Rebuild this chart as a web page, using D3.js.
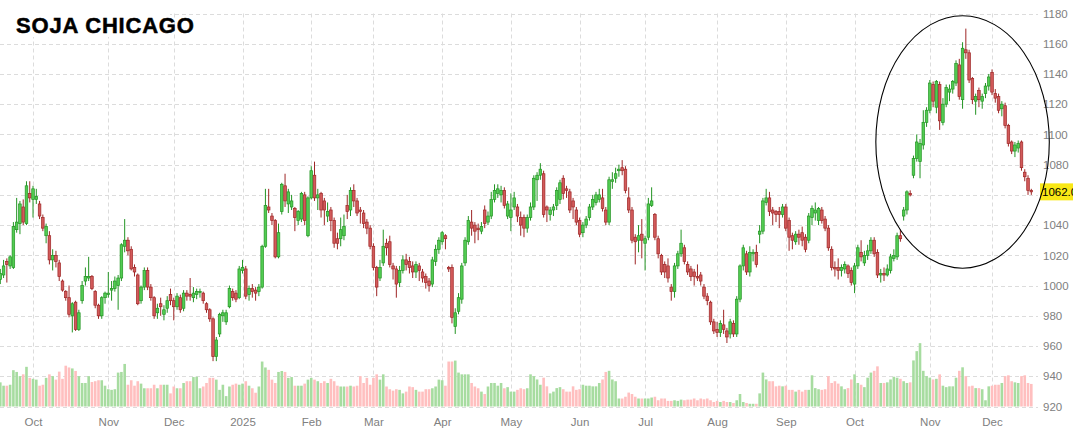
<!DOCTYPE html>
<html>
<head>
<meta charset="utf-8">
<script src="https://cdn.jsdelivr.net/npm/d3@7"></script>
<style>
  body { margin: 0; background: #fff; }
  svg { display: block; font-family: Arial, 'Liberation Sans', sans-serif; }
</style>
</head>
<body>
<svg width="1073" height="431"></svg>
<script>
'use strict'

const title = 'SOJA CHICAGO'
const firstDay = '2024-09-17'
const lastDay = '2025-12-17'
const holidays = ['2024-11-28', '2024-12-25', '2025-01-01', '2025-01-20', '2025-02-17', '2025-04-18',
  '2025-05-26', '2025-06-19', '2025-07-04', '2025-09-01', '2025-11-27']
const yTicks = [920, 940, 960, 980, 1000, 1020, 1040, 1060, 1080, 1100, 1120, 1140, 1160, 1180]

// one value per trading day, month by month
const opens = [
  1004, 1007, 1016, 1013, 1012, 1037, 1041, 1052, 1041, 1061,
  1057, 1057, 1054, 1045, 1033, 1033, 1017, 1020, 1015, 1003, 996, 992, 980, 989, 971, 990, 1003, 1005, 1006, 996, 987, 980, 992,
  994, 997, 998, 1000, 1005, 1026, 1030, 1024, 1012, 1007, 990, 999, 1010, 999, 992, 982, 988, 981, 985, 994,
  990, 986, 992, 985, 995, 994, 992, 994, 996, 995, 988, 984, 978, 953, 968, 980, 976, 986, 996, 995, 992,
  1010, 1011, 994, 998, 997, 996, 999, 1026, 1052, 1046, 1043, 1019, 1049, 1066, 1054, 1052, 1051, 1043, 1044, 1060, 1033,
  1058, 1073, 1058, 1061, 1056, 1046, 1050, 1043, 1031, 1031, 1033, 1053, 1050, 1063, 1056, 1050, 1048, 1042, 1038,
  1026, 1012, 1005, 1015, 1028, 1029, 1013, 1011, 1002, 1010, 1017, 1016, 1013, 1009, 1013, 1009, 1006, 1003, 1001, 1016, 1024,
  1029, 1033, 1012, 1012, 973, 983, 991, 1015, 1029, 1042, 1040, 1038, 1036, 1050, 1042, 1046, 1057, 1061, 1060, 1063, 1046,
  1045, 1052, 1052, 1045, 1045, 1038, 1045, 1052, 1070, 1073, 1074, 1052, 1047, 1050, 1053, 1057, 1071, 1064, 1062, 1056, 1050,
  1043, 1035, 1040, 1045, 1052, 1055, 1057, 1058, 1050, 1042, 1069, 1071, 1076, 1078, 1077, 1058, 1050, 1032, 1030, 1034,
  1028, 1032, 1053, 1047, 1031, 1020, 1014, 1013, 999, 996, 1013, 1021, 1025, 1014, 1011, 1009, 1006, 1007, 999, 993, 989, 976,
  971, 969, 974, 970, 968, 975, 968, 991, 1013, 1021, 1009, 1021, 1022, 1034, 1036, 1055, 1058, 1050, 1049, 1049, 1047,
  1052, 1043, 1033, 1029, 1034, 1035, 1032, 1030, 1045, 1048, 1043, 1050, 1044, 1038, 1024, 1012, 1012, 1010, 1011, 1013, 1010,
  1001, 1013, 1022, 1015, 1020, 1023, 1030, 1022, 1007, 1008, 1007, 1010, 1018, 1019, 1033, 1046, 1050, 1061, 1073, 1084, 1082, 1093, 1108,
  1116, 1133, 1118, 1133, 1108, 1120, 1128, 1130, 1134, 1146, 1123, 1156, 1154, 1137, 1122, 1129, 1122, 1127, 1132,
  1141, 1127, 1125, 1117, 1119, 1106, 1095, 1089, 1091, 1095, 1075, 1071, 1063
]
const highs = [
  1011, 1017, 1018, 1020, 1042, 1058, 1056, 1057, 1069, 1069,
  1066, 1064, 1056, 1047, 1041, 1036, 1024, 1023, 1017, 1004, 997, 1000, 989, 990, 984, 1003, 1012, 1019, 1007, 997, 988, 993, 996,
  1009, 1003, 1006, 1007, 1028, 1044, 1032, 1026, 1014, 1008, 1000, 1012, 1012, 1001, 993, 988, 992, 987, 993, 998,
  992, 995, 994, 997, 997, 1005, 999, 998, 998, 996, 989, 985, 979, 966, 982, 984, 984, 1000, 998, 997, 1013,
  1017, 1013, 1000, 1001, 999, 1001, 1027, 1064, 1064, 1048, 1044, 1041, 1068, 1074, 1064, 1060, 1052, 1050, 1062, 1062, 1059,
  1079, 1082, 1064, 1062, 1058, 1055, 1052, 1045, 1035, 1045, 1047, 1060, 1065, 1067, 1058, 1052, 1050, 1044, 1040,
  1028, 1013, 1017, 1037, 1031, 1033, 1015, 1013, 1013, 1020, 1021, 1019, 1016, 1016, 1015, 1011, 1008, 1005, 1019, 1027, 1032,
  1036, 1034, 1013, 1014, 985, 995, 1015, 1032, 1046, 1050, 1042, 1041, 1042, 1053, 1049, 1062, 1067, 1067, 1066, 1065, 1056,
  1061, 1062, 1054, 1049, 1047, 1047, 1055, 1073, 1075, 1081, 1076, 1053, 1052, 1054, 1065, 1070, 1073, 1066, 1064, 1058, 1052,
  1045, 1042, 1046, 1054, 1060, 1062, 1064, 1064, 1052, 1072, 1075, 1078, 1080, 1083, 1079, 1065, 1052, 1034, 1040, 1044,
  1033, 1058, 1065, 1048, 1033, 1021, 1016, 1018, 1001, 1015, 1023, 1037, 1027, 1016, 1013, 1011, 1014, 1009, 1001, 995, 990, 978,
  976, 977, 984, 972, 978, 977, 993, 1014, 1027, 1023, 1026, 1024, 1027, 1040, 1058, 1064, 1062, 1052, 1050, 1052, 1054,
  1054, 1045, 1035, 1036, 1037, 1039, 1034, 1048, 1053, 1055, 1052, 1052, 1046, 1040, 1026, 1016, 1018, 1014, 1016, 1014, 1012,
  1015, 1027, 1030, 1023, 1027, 1032, 1032, 1024, 1011, 1012, 1014, 1021, 1024, 1035, 1037, 1052, 1063, 1063, 1086, 1100, 1097, 1116, 1118,
  1136, 1135, 1136, 1135, 1124, 1133, 1133, 1136, 1149, 1150, 1161, 1170, 1156, 1138, 1127, 1131, 1127, 1134, 1140,
  1143, 1130, 1127, 1122, 1121, 1107, 1096, 1095, 1096, 1096, 1077, 1073, 1064
]
const lows = [
  1001, 1005, 1002, 1011, 1011, 1035, 1034, 1040, 1040, 1055,
  1045, 1054, 1044, 1036, 1028, 1014, 1010, 1012, 1003, 996, 990, 979, 969, 970, 970, 988, 1000, 1003, 997, 985, 978, 978, 988,
  992, 990, 996, 984, 1003, 1022, 1020, 1010, 1006, 987, 988, 997, 997, 990, 978, 978, 980, 977, 982, 987,
  977, 984, 982, 983, 990, 990, 989, 991, 992, 988, 982, 976, 950, 950, 966, 976, 974, 985, 990, 989, 991,
  1008, 991, 990, 992, 990, 993, 998, 1025, 1048, 1040, 1018, 1018, 1047, 1052, 1048, 1050, 1036, 1040, 1042, 1040, 1032,
  1057, 1056, 1050, 1045, 1040, 1042, 1036, 1025, 1024, 1026, 1030, 1044, 1046, 1052, 1046, 1041, 1038, 1034, 1024,
  1010, 993, 1003, 1013, 1020, 1012, 1004, 992, 999, 1008, 1010, 1008, 1005, 1005, 1003, 1002, 998, 996, 999, 1013, 1021,
  1027, 1024, 1009, 975, 968, 981, 988, 1013, 1027, 1033, 1028, 1030, 1034, 1038, 1040, 1044, 1055, 1058, 1055, 1051, 1044,
  1036, 1050, 1042, 1033, 1032, 1035, 1043, 1050, 1056, 1070, 1045, 1042, 1043, 1046, 1050, 1054, 1057, 1058, 1048, 1044, 1040,
  1032, 1032, 1038, 1043, 1050, 1053, 1055, 1049, 1040, 1040, 1064, 1068, 1072, 1073, 1061, 1048, 1028, 1014, 1022, 1018,
  1010, 1030, 1052, 1030, 1018, 1007, 1005, 1002, 990, 992, 1011, 1019, 1014, 1007, 1003, 1000, 1003, 1000, 991, 987, 974, 968,
  966, 966, 968, 962, 965, 966, 966, 989, 1010, 1007, 1006, 1016, 1012, 1028, 1034, 1053, 1046, 1040, 1042, 1038, 1045,
  1036, 1023, 1024, 1027, 1027, 1026, 1022, 1028, 1040, 1043, 1040, 1041, 1036, 1023, 1010, 1006, 1004, 1006, 1008, 1005, 1000,
  995, 1011, 1016, 1013, 1017, 1021, 1019, 1005, 1002, 1003, 1006, 1008, 1016, 1017, 1029, 1043, 1047, 1059, 1071, 1082, 1071, 1090, 1105,
  1114, 1118, 1114, 1103, 1106, 1118, 1122, 1127, 1132, 1123, 1117, 1150, 1134, 1120, 1113, 1118, 1117, 1124, 1129,
  1126, 1121, 1114, 1112, 1104, 1092, 1087, 1085, 1088, 1076, 1069, 1060, 1060
]
const closes = [
  1008, 1013, 1014, 1019, 1039, 1042, 1054, 1042, 1066, 1058,
  1064, 1059, 1046, 1038, 1039, 1017, 1020, 1016, 1006, 997, 992, 981, 988, 971, 982, 1000, 1006, 1006, 998, 987, 980, 992, 995,
  995, 998, 1003, 1005, 1027, 1030, 1023, 1011, 1009, 988, 999, 1010, 999, 992, 980, 985, 986, 984, 990, 990,
  986, 993, 984, 995, 993, 993, 995, 996, 996, 990, 984, 978, 953, 964, 981, 982, 982, 998, 992, 991, 1011,
  1012, 993, 998, 996, 995, 999, 1026, 1053, 1050, 1043, 1019, 1035, 1067, 1056, 1062, 1056, 1045, 1049, 1061, 1043, 1058,
  1076, 1058, 1060, 1050, 1050, 1049, 1043, 1028, 1028, 1037, 1039, 1049, 1063, 1056, 1048, 1049, 1041, 1038, 1026,
  1012, 999, 1012, 1026, 1025, 1014, 1011, 1001, 1010, 1017, 1014, 1012, 1009, 1014, 1010, 1005, 1002, 1000, 1017, 1024, 1030,
  1035, 1031, 1011, 979, 982, 992, 1013, 1030, 1043, 1038, 1036, 1037, 1039, 1041, 1046, 1057, 1063, 1064, 1063, 1053, 1054,
  1050, 1058, 1046, 1040, 1038, 1045, 1052, 1071, 1073, 1077, 1047, 1050, 1050, 1052, 1063, 1068, 1061, 1063, 1050, 1052, 1042,
  1034, 1040, 1044, 1052, 1057, 1060, 1060, 1051, 1042, 1070, 1070, 1074, 1077, 1076, 1063, 1050, 1030, 1029, 1033, 1030,
  1031, 1054, 1056, 1032, 1021, 1009, 1009, 1005, 996, 1013, 1021, 1028, 1016, 1009, 1006, 1006, 1005, 1003, 993, 990, 976, 970,
  969, 975, 971, 966, 976, 968, 991, 1013, 1025, 1009, 1022, 1022, 1014, 1036, 1056, 1058, 1049, 1048, 1047, 1047, 1052,
  1038, 1032, 1030, 1034, 1032, 1030, 1024, 1046, 1051, 1050, 1051, 1043, 1038, 1025, 1012, 1011, 1010, 1012, 1014, 1008, 1002,
  1013, 1025, 1019, 1020, 1023, 1030, 1021, 1007, 1008, 1007, 1011, 1019, 1020, 1033, 1031, 1050, 1062, 1060, 1084, 1095, 1094, 1108, 1116,
  1134, 1122, 1135, 1109, 1120, 1131, 1130, 1135, 1147, 1125, 1157, 1154, 1136, 1123, 1125, 1123, 1125, 1132, 1138,
  1128, 1124, 1116, 1120, 1106, 1094, 1089, 1093, 1094, 1078, 1072, 1063, 1062
]
// volume, thousand contracts
const volumes = [
  151, 130, 130, 136, 227, 216, 190, 201, 248, 179,
  173, 168, 130, 136, 179, 201, 190, 168, 218, 173,
  255, 244, 238, 222, 190, 147, 147, 190, 153, 158,
  164, 164, 130, 108, 104, 108, 212, 216, 266, 136,
  164, 130, 158, 143, 114, 114, 114, 136, 114, 136,
  136, 136, 82, 125, 114, 114, 147, 158, 158, 184,
  186, 114, 125, 147, 179, 179, 168, 104, 136, 65,
  125, 136, 143, 136, 143, 158, 130, 114, 86, 125,
  281, 244, 229, 168, 147, 216, 222, 216, 179, 184,
  130, 130, 130, 143, 168, 179, 168, 158, 147, 158,
  147, 173, 158, 130, 125, 125, 125, 130, 125, 130,
  190, 147, 179, 136, 179, 201, 168, 201, 125, 108,
  99, 108, 104, 82, 93, 125, 121, 104, 93, 93,
  108, 108, 114, 125, 168, 164, 130, 281, 281, 287,
  212, 201, 201, 201, 147, 125, 114, 93, 78, 125,
  147, 147, 130, 147, 114, 121, 93, 93, 104, 114,
  108, 114, 201, 190, 169, 136, 180, 126, 82, 93,
  115, 121, 108, 93, 93, 126, 104, 108, 136, 130,
  130, 126, 126, 147, 169, 216, 223, 169, 158, 50,
  50, 61, 87, 78, 61, 50, 50, 50, 50, 56,
  61, 39, 50, 50, 35, 35, 39, 35, 43, 39,
  43, 43, 50, 39, 50, 45, 50, 39, 28, 35,
  28, 35, 28, 28, 22, 39, 78, 28, 22, 17,
  17, 17, 82, 212, 169, 158, 158, 126, 130, 126,
  130, 104, 104, 93, 104, 93, 104, 104, 195, 115,
  108, 104, 108, 190, 147, 158, 143, 126, 108, 115,
  169, 201, 147, 136, 121, 180, 212, 223, 251, 147,
  147, 151, 169, 186, 180, 173, 158, 147, 151, 288,
  346, 396, 223, 190, 180, 169, 173, 201, 130, 121,
  126, 126, 180, 223, 245, 190, 126, 130, 115, 115,
  108, 39, 126, 130, 136, 136, 147, 190, 195, 158,
  151, 147, 190, 195, 147, 141
]

// hand-drawn ellipse round the last rally: centre day index, centre price, half-spans
const ringDay = 294
const ringPrice = 1095
const ringHalfDays = 26.5
const ringHalfPrice = 83.5

const svg = d3.select('body svg')

const parseDay = d3.timeParse('%Y-%m-%d')
const formatDay = d3.timeFormat('%Y-%m-%d')
const days = d3.timeDay.range(parseDay(firstDay), d3.timeDay.offset(parseDay(lastDay), 1))
  .filter((d) => d.getDay() !== 0 && d.getDay() !== 6 && !holidays.includes(formatDay(d)))
const monthStarts = days.filter((d, i) => i > 0 && d.getMonth() !== days[i - 1].getMonth())

const candles = days.map((d, i) => ({
  date: d, o: opens[i], h: highs[i], l: lows[i], c: closes[i], v: volumes[i]
}))

const x = d3.scalePoint().domain(days).range([0.3, 1031.3])
const y = d3.scaleLinear().domain([920, 1180]).range([406.5, 13.5])
const yVol = d3.scaleLinear().domain([0, 400]).range([406.5, 342.5])
const crisp = (v) => Math.round(v) + 0.5

// grid
const grid = svg.append('g').attr('stroke', '#dcdcdc').attr('stroke-dasharray', '4,3')
grid.selectAll('line.h').data(yTicks).join('line').classed('h', true)
  .attr('x1', 0).attr('x2', 1038)
  .attr('y1', (d) => crisp(y(d))).attr('y2', (d) => crisp(y(d)))
grid.selectAll('line.v').data(monthStarts).join('line').classed('v', true)
  .attr('x1', (d) => crisp(x(d))).attr('x2', (d) => crisp(x(d)))
  .attr('y1', y(1180)).attr('y2', y(920))

// volume
svg.append('g').selectAll('rect').data(candles).join('rect')
  .attr('x', (d) => x(d.date) - 1.3)
  .attr('width', 2.6)
  .attr('y', (d) => yVol(d.v))
  .attr('height', (d) => yVol(0) - yVol(d.v))
  .attr('fill', (d) => d.c >= d.o ? '#a7dca0' : '#ffbfbf')

// candles
const candle = svg.append('g').selectAll('g').data(candles).join('g')
  .attr('transform', (d) => `translate(${x(d.date)},0)`)
candle.append('line')
  .attr('y1', (d) => y(d.h)).attr('y2', (d) => y(d.l))
  .attr('stroke', (d) => d.c >= d.o ? '#239423' : '#9e2626')
  .attr('stroke-width', 1)
candle.append('rect')
  .attr('x', -1.3).attr('width', 2.6)
  .attr('y', (d) => y(Math.max(d.o, d.c)))
  .attr('height', (d) => Math.max(1, Math.abs(y(d.o) - y(d.c))))
  .attr('fill', (d) => d.c >= d.o ? '#52cc52' : '#d25a5a')
  .attr('stroke', (d) => d.c >= d.o ? '#239423' : '#9e2626')
  .attr('stroke-width', 0.7)

// right price axis
const yAxis = svg.append('g').attr('transform', 'translate(1040,0)')
  .call(d3.axisRight(y).tickValues(yTicks).tickSize(0).tickPadding(3).tickFormat(d3.format('d')))
yAxis.attr('font-size', 11.5).attr('font-family', null)
yAxis.select('.domain').remove()
yAxis.selectAll('text').attr('fill', '#808080')

// month axis
const xAxis = svg.append('g').attr('transform', `translate(0,${y(920)})`)
  .call(d3.axisBottom(x).tickValues(monthStarts).tickSize(0).tickPadding(11)
    .tickFormat((d) => d.getMonth() === 0 ? d3.timeFormat('%Y')(d) : d3.timeFormat('%b')(d)))
xAxis.attr('font-size', 11.5).attr('font-family', null)
xAxis.select('.domain').remove()
xAxis.selectAll('text').attr('fill', '#808080')

// last price tag, drawn over the axis label it hides
const last = closes[closes.length - 1]
svg.append('rect')
  .attr('x', 1040).attr('y', y(last) - 8.5)
  .attr('width', 40).attr('height', 17)
  .attr('fill', '#f9e816')
svg.append('text')
  .attr('x', 1042).attr('y', y(last))
  .attr('dy', '0.35em')
  .attr('font-size', 11.5)
  .attr('fill', '#000')
  .text(d3.format('.1f')(last))

// ellipse annotation
svg.append('ellipse')
  .attr('cx', x(days[ringDay]))
  .attr('cy', y(ringPrice))
  .attr('rx', x.step() * ringHalfDays)
  .attr('ry', y(ringPrice - ringHalfPrice) - y(ringPrice))
  .attr('fill', 'none')
  .attr('stroke', '#000')
  .attr('stroke-width', 1.1)

// title
svg.append('rect').attr('x', 0).attr('y', 0).attr('width', 170).attr('height', 37).attr('fill', '#fff')
svg.append('text')
  .attr('x', 16).attr('y', 33)
  .attr('font-size', 22)
  .attr('font-weight', 'bold')
  .attr('letter-spacing', 0.8)
  .attr('fill', '#000')
  .attr('stroke', '#000')
  .attr('stroke-width', 0.5)
  .text(title)
</script>
</body>
</html>
